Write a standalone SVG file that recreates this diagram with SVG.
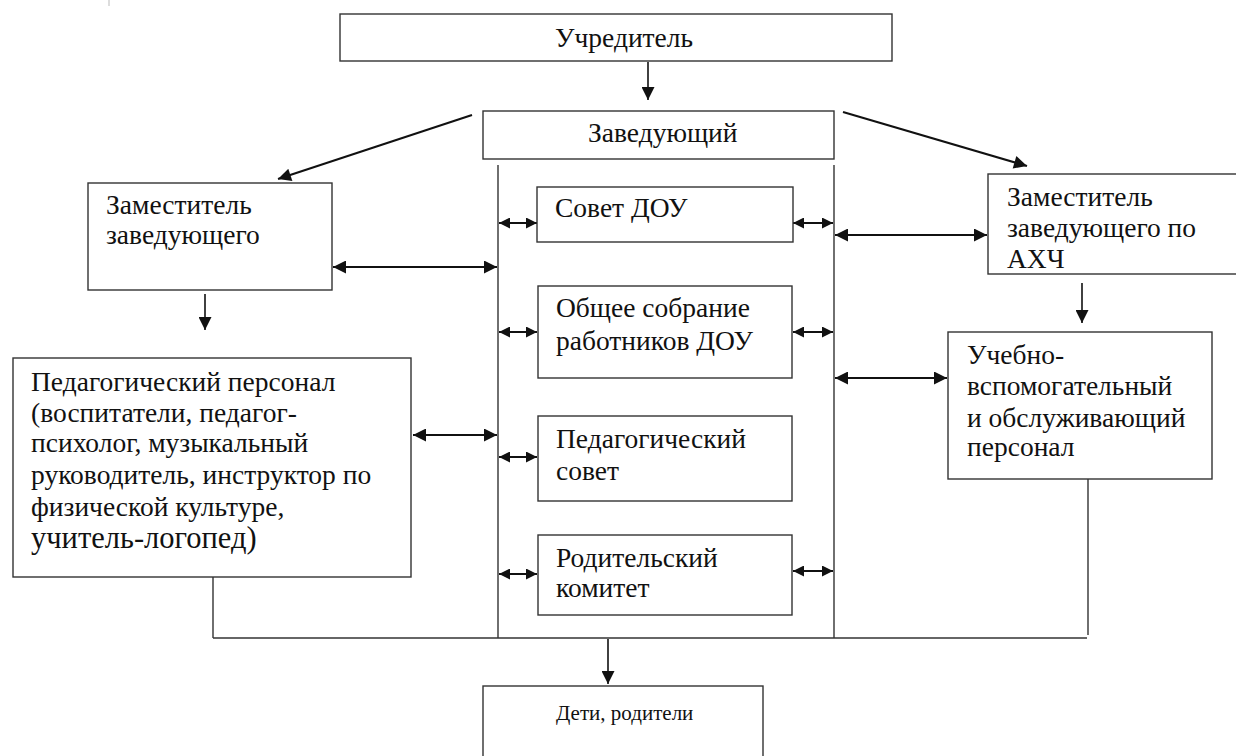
<svg xmlns="http://www.w3.org/2000/svg" width="1236" height="756" viewBox="0 0 1236 756">
<defs>
<style>
.box{fill:#fff;stroke:#333;stroke-width:1.4}
.ln{fill:none;stroke:#333;stroke-width:1.4}
.ar{fill:none;stroke:#111;stroke-width:2}
.ar1{fill:none;stroke:#111;stroke-width:1.6}
</style>
<marker id="ah" viewBox="0 0 12 12" refX="12" refY="6" markerWidth="14" markerHeight="13" markerUnits="userSpaceOnUse" orient="auto-start-reverse">
<path d="M0,0 L12,6 L0,12 z" fill="#111"/>
</marker>
<marker id="as" viewBox="0 0 10 10" refX="10" refY="5" markerWidth="11" markerHeight="11" markerUnits="userSpaceOnUse" orient="auto-start-reverse">
<path d="M0,0 L10,5 L0,10 z" fill="#111"/>
</marker>
</defs>
<rect width="1236" height="756" fill="#fff"/>
<line x1="109" y1="0" x2="109" y2="6" stroke="#bbb" stroke-width="1"/>

<g id="connectors">
<line class="ln" x1="498" y1="165" x2="498" y2="638"/>
<line class="ln" x1="834" y1="165" x2="834" y2="638"/>
<line class="ln" x1="213" y1="638" x2="1087" y2="638"/>
<line class="ln" x1="213" y1="577" x2="213" y2="638"/>
<line class="ln" x1="1088" y1="479" x2="1088" y2="635"/>
<line class="ar1" x1="648" y1="62" x2="648" y2="100" marker-end="url(#ah)"/>
<line class="ar" x1="472" y1="115" x2="278" y2="179" marker-end="url(#ah)"/>
<line class="ar" x1="843" y1="112" x2="1027" y2="166" marker-end="url(#ah)"/>
<line class="ar" x1="333" y1="267" x2="497" y2="267" marker-start="url(#ah)" marker-end="url(#ah)"/>
<line class="ar" x1="835" y1="235" x2="987" y2="235" marker-start="url(#ah)" marker-end="url(#ah)"/>
<line class="ar" x1="835" y1="378" x2="947" y2="378" marker-start="url(#ah)" marker-end="url(#ah)"/>
<line class="ar" x1="413" y1="435" x2="497" y2="435" marker-start="url(#ah)" marker-end="url(#ah)"/>
<line class="ar1" x1="205" y1="294" x2="205" y2="330" marker-end="url(#ah)"/>
<line class="ar1" x1="1082" y1="283" x2="1082" y2="323" marker-end="url(#ah)"/>
<line class="ar" x1="499" y1="223" x2="537" y2="223" marker-start="url(#as)" marker-end="url(#as)"/>
<line class="ar" x1="793" y1="223" x2="833" y2="223" marker-start="url(#as)" marker-end="url(#as)"/>
<line class="ar" x1="499" y1="332" x2="537" y2="332" marker-start="url(#as)" marker-end="url(#as)"/>
<line class="ar" x1="793" y1="332" x2="833" y2="332" marker-start="url(#as)" marker-end="url(#as)"/>
<line class="ar" x1="499" y1="457" x2="537" y2="457" marker-start="url(#as)" marker-end="url(#as)"/>
<line class="ar" x1="499" y1="574" x2="537" y2="574" marker-start="url(#as)" marker-end="url(#as)"/>
<line class="ar" x1="793" y1="571" x2="833" y2="571" marker-start="url(#as)" marker-end="url(#as)"/>
<line class="ar1" x1="608" y1="639" x2="608" y2="684" marker-end="url(#ah)"/>
</g>

<g font-family="Liberation Serif, Times New Roman, Tinos, DejaVu Serif, Noto Serif, serif" font-size="27.5" fill="#111">
<g id="uchreditel">
<rect class="box" x="340" y="14" width="552" height="47"/>
<text x="555" y="47">Учредитель</text>
</g>
<g id="zaveduyushchiy">
<rect class="box" x="483" y="111" width="351" height="48"/>
<text x="588" y="142">Заведующий</text>
</g>
<g id="zam">
<rect class="box" x="88" y="183" width="244" height="107"/>
<text x="106" y="214">Заместитель</text>
<text x="106" y="244">заведующего</text>
</g>
<g id="zam-ahch">
<rect class="box" x="988" y="174" width="260" height="100"/>
<text x="1007" y="206">Заместитель</text>
<text x="1007" y="237">заведующего по</text>
<text x="1007" y="268">АХЧ</text>
</g>
<g id="sovet-dou">
<rect class="box" x="537" y="187" width="256" height="55"/>
<text x="555" y="217">Совет ДОУ</text>
</g>
<g id="obshchee-sobranie">
<rect class="box" x="538" y="286" width="254" height="92"/>
<text x="556" y="317">Общее собрание</text>
<text x="556" y="350">работников ДОУ</text>
</g>
<g id="ped-sovet">
<rect class="box" x="538" y="416" width="254" height="85"/>
<text x="556" y="448">Педагогический</text>
<text x="556" y="480">совет</text>
</g>
<g id="rod-komitet">
<rect class="box" x="538" y="535" width="254" height="80"/>
<text x="556" y="567">Родительский</text>
<text x="556" y="597">комитет</text>
</g>
<g id="ped-personal">
<rect class="box" x="13" y="358" width="398" height="219"/>
<text x="31" y="391">Педагогический персонал</text>
<text x="31" y="422">(воспитатели, педагог-</text>
<text x="31" y="452">психолог, музыкальный</text>
<text x="31" y="484">руководитель, инструктор по</text>
<text x="31" y="516">физической культуре,</text>
<text x="31" y="548" font-size="30.5">учитель-логопед)</text>
</g>
<g id="uchebno">
<rect class="box" x="948" y="332" width="264" height="147"/>
<text x="967" y="364">Учебно-</text>
<text x="967" y="395">вспомогательный</text>
<text x="967" y="427">и обслуживающий</text>
<text x="967" y="456">персонал</text>
</g>
<g id="deti">
<rect class="box" x="483" y="686" width="280" height="80"/>
<text x="556" y="720" font-size="21">Дети, родители</text>
</g>
</g>
</svg>
